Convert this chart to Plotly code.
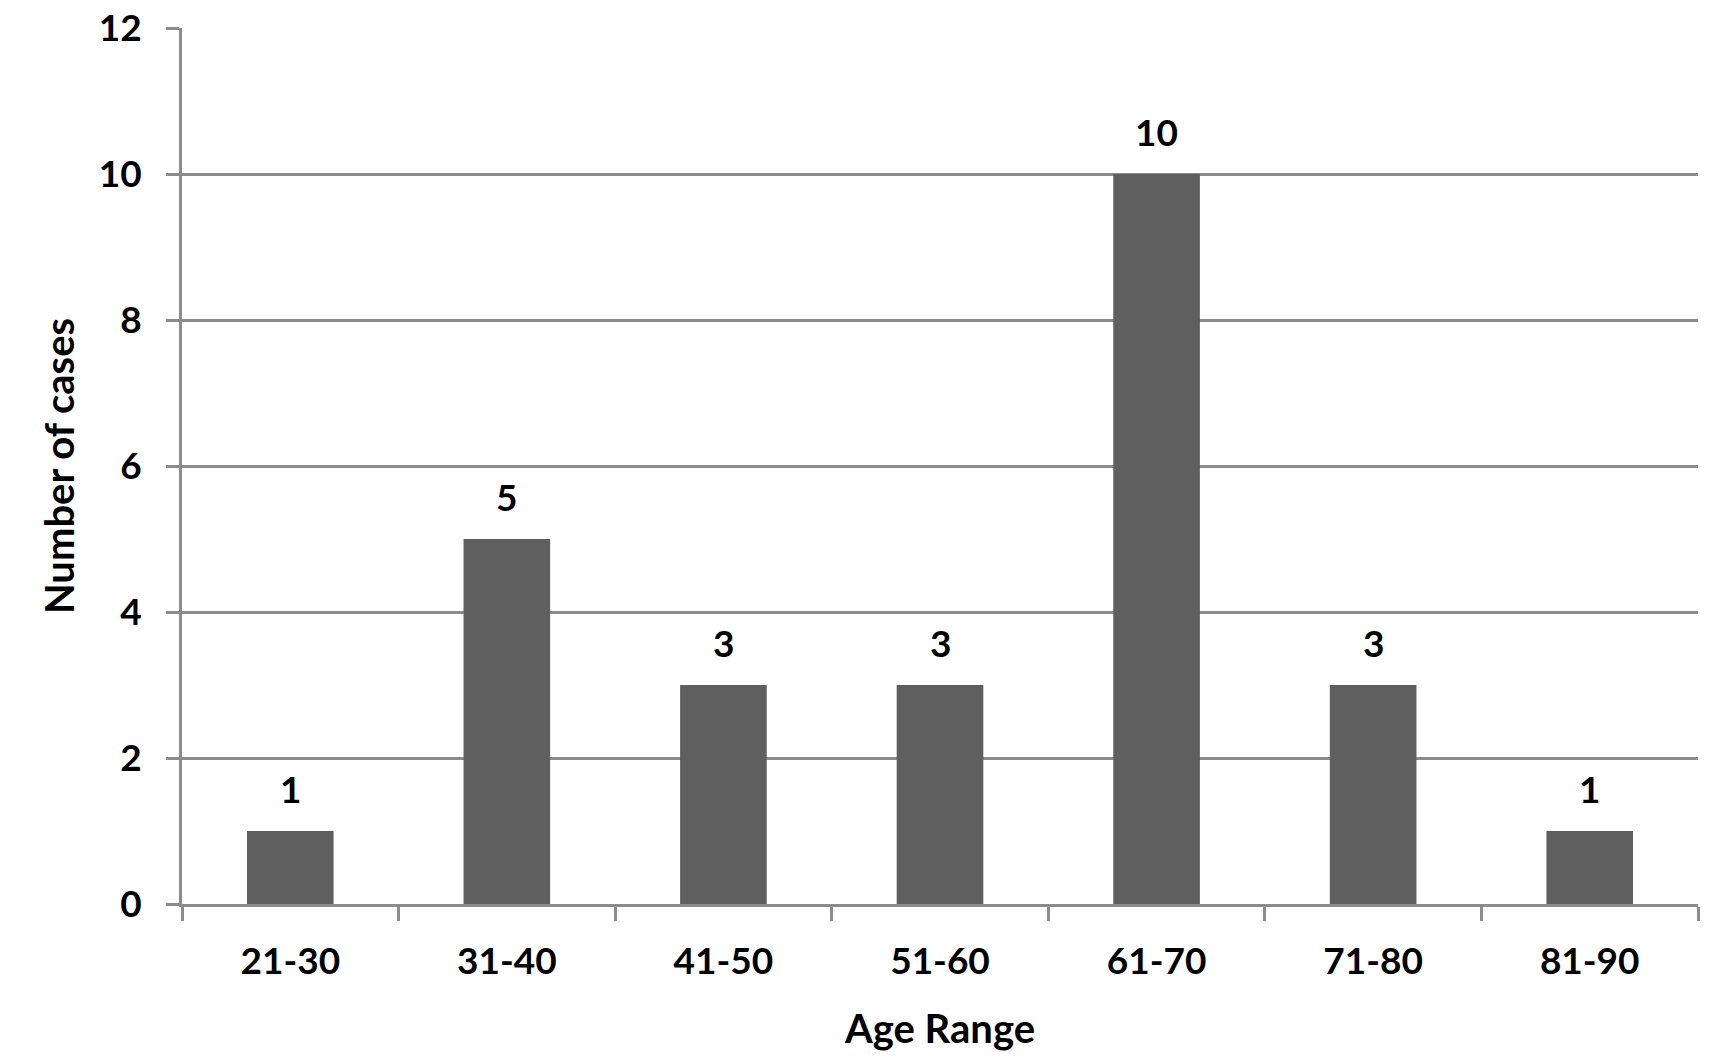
import plotly.graph_objects as go

categories = ["21-30", "31-40", "41-50", "51-60", "61-70", "71-80", "81-90"]
cases = [1, 5, 3, 3, 10, 3, 1]
y_ticks = [0, 2, 4, 6, 8, 10, 12]

FONT = dict(family="Lato", size=37, color="#000000", weight="bold")
TITLE_FONT = dict(family="Lato", size=40, color="#000000", weight="bold")
GRID = "#8c8c8c"

fig = go.Figure()
fig.add_trace(go.Bar(
    x=categories, y=cases,
    marker=dict(color="#5f5f5f", line=dict(width=0)),
    width=0.4,
    hoverinfo="skip",
))

for c, v in zip(categories, cases):
    fig.add_annotation(x=c, y=v, text=str(v), showarrow=False,
                       yanchor="middle", yshift=43, font=FONT)

fig.update_layout(
    width=1720, height=1061,
    margin=dict(l=182, r=22, t=28, b=157),
    paper_bgcolor="white", plot_bgcolor="white",
    showlegend=False,
    font=FONT,
)
fig.update_xaxes(
    type="category", automargin=False,
    showline=True, linecolor=GRID, linewidth=3,
    ticks="outside", tickson="boundaries", ticklen=14, tickwidth=3, tickcolor=GRID,
    showgrid=False,
    tickfont=FONT,
    ticklabelstandoff=23,
    ticklabeloverflow="allow",
    title=dict(text="Age Range", font=TITLE_FONT, standoff=34),
)
fig.update_yaxes(
    range=[0, 12], tickvals=y_ticks, automargin=False,
    showline=True, linecolor=GRID, linewidth=3,
    ticks="outside", ticklen=13, tickwidth=3, tickcolor=GRID,
    showgrid=True, gridcolor=GRID, gridwidth=3,
    zeroline=False,
    tickfont=FONT,
    ticklabelstandoff=17,
    ticklabeloverflow="allow",
    title=dict(text="Number of cases", font=TITLE_FONT, standoff=12),
)

fig.write_html(
    "out.html",
    config={"displayModeBar": False},
    post_script="document.body.style.margin='0';document.body.style.overflow='hidden';",
)
